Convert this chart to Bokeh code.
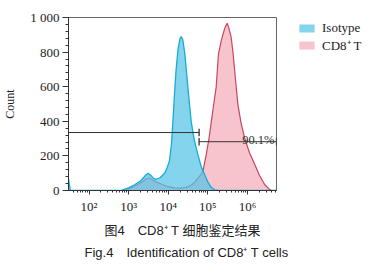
from bokeh.plotting import figure
from bokeh.models import Range1d, FixedTicker, Legend, LegendItem, Label, Title
from bokeh.embed import file_html
from bokeh.resources import INLINE

# ---------------- data ----------------
# fluorescence intensity as log10 values, counts per channel
iso_log = [1.482, 1.53, 2.80, 3.00, 3.15, 3.30, 3.42, 3.49, 3.56, 3.63, 3.70, 3.80,
           3.91, 3.97, 4.03, 4.08, 4.12, 4.16, 4.20, 4.25, 4.30, 4.33, 4.37, 4.42,
           4.46, 4.52, 4.58, 4.66, 4.75, 4.83, 4.92, 5.00, 5.08, 5.17, 5.30, 6.735]
iso_count = [70, 0, 0, 15, 33, 55, 85, 100, 88, 70, 65, 75,
             100, 130, 170, 260, 400, 560, 700, 820, 880, 890, 870, 790,
             690, 540, 400, 290, 207, 140, 91, 50, 20, 4, 0, 0]

cd8_log = [1.482, 2.85, 3.00, 3.20, 3.35, 3.45, 3.52, 3.60, 3.70, 3.85, 4.00, 4.15,
           4.30, 4.45, 4.58, 4.68, 4.75, 4.82, 4.88, 4.96, 5.03, 5.09, 5.15, 5.21,
           5.27, 5.34, 5.41, 5.45, 5.49, 5.53, 5.59, 5.64, 5.70, 5.76, 5.84, 5.93,
           6.05, 6.19, 6.30, 6.44, 6.55, 6.61, 6.735]
cd8_count = [0, 0, 10, 30, 50, 68, 72, 62, 50, 35, 22, 15,
             14, 18, 30, 50, 72, 90, 115, 207, 300, 400, 500, 595,
             790, 866, 924, 950, 967, 940, 886, 789, 640, 498, 390, 304,
             220, 149, 90, 33, 8, 0, 0]

series_names = ["Isotype", "CD8⁺ T"]

x_range_log = [1.482, 6.735]
x_tick_values = [1e2, 1e3, 1e4, 1e5, 1e6]
x_tick_labels = ["10²", "10³", "10⁴", "10⁵", "10⁶"]
y_tick_values = [0, 200, 400, 600, 800, 1000]
y_tick_labels = ["0", "200", "400", "600", "800", "1 000"]

gate_split_log = 4.78
gate_neg_level = 335
gate_pos_level = 282
gate_pos_text = "90.1%"

caption_cn = "图4　CD8⁺ T 细胞鉴定结果"
caption_en = "Fig.4　Identification of CD8⁺ T cells"

# ---------------- figure ----------------
SERIF = "Liberation Serif"
x0, x1 = 10 ** x_range_log[0], 10 ** x_range_log[1]

p = figure(width=371, height=269, frame_width=208, frame_height=173, x_axis_type="log",
           x_range=Range1d(x0, x1), y_range=Range1d(0, 1000),
           min_border_left=67, min_border_right=96, min_border_top=17, min_border_bottom=79,
           output_backend="svg", toolbar_location=None)
p.grid.visible = False
p.outline_line_color = "#666666"
p.background_fill_color = "white"
p.border_fill_color = "white"

iso_x = [10 ** v for v in iso_log]
cd8_x = [10 ** v for v in cd8_log]

cd8_area = p.varea(x=cd8_x, y1=0, y2=cd8_count, fill_color="#f7c4ce", fill_alpha=1.0)
p.line(cd8_x, cd8_count, line_color="#c9455c", line_width=1.2)
iso_area = p.varea(x=iso_x, y1=0, y2=iso_count, fill_color="#55c3e8", fill_alpha=0.72)
p.line(iso_x, iso_count, line_color="#14aed3", line_width=1.3)

# gates
gs = 10 ** gate_split_log
tick_h = 22
p.segment(x0=[x0, gs], y0=[gate_neg_level, gate_pos_level],
          x1=[gs, x1], y1=[gate_neg_level, gate_pos_level],
          line_color="#333333", line_width=1)
p.segment(x0=[gs, gs, x1], y0=[gate_neg_level - tick_h, gate_pos_level - tick_h, gate_pos_level - tick_h],
          x1=[gs, gs, x1], y1=[gate_neg_level + tick_h, gate_pos_level + tick_h, gate_pos_level + tick_h],
          line_color="#333333", line_width=1.3)
p.add_layout(Label(x=10 ** 6.685, y=gate_pos_level + 11, text=gate_pos_text,
                   text_align="right", text_baseline="alphabetic",
                   text_font=SERIF, text_font_size="12.5px", text_color="#333333"))

# axes
p.xaxis.ticker = FixedTicker(ticks=x_tick_values,
                             minor_ticks=[k * 10 ** e for e in range(1, 7) for k in range(2, 10)])
p.xaxis.major_label_overrides = {v: s for v, s in zip(x_tick_values, x_tick_labels)}
p.yaxis.ticker = FixedTicker(ticks=y_tick_values, minor_ticks=list(range(0, 1001, 40)))
p.yaxis.major_label_overrides = {v: s for v, s in zip(y_tick_values, y_tick_labels)}
p.yaxis.axis_label = "Count"
for ax in (p.xaxis, p.yaxis):
    ax.axis_line_color = "#333333"
    ax.major_tick_line_color = "#333333"
    ax.minor_tick_line_color = "#333333"
    ax.major_tick_in = 0
    ax.minor_tick_in = 0
    ax.major_label_text_font = SERIF
    ax.major_label_text_font_size = "13px"
    ax.major_label_text_color = "#222222"
p.xaxis.major_tick_out = 4
p.xaxis.minor_tick_out = 2
p.xaxis.major_label_standoff = 4
p.yaxis.major_tick_out = 6
p.yaxis.minor_tick_out = 3
p.yaxis.major_label_standoff = 3
p.yaxis.axis_label_text_font = SERIF
p.yaxis.axis_label_text_font_size = "12px"
p.yaxis.axis_label_text_font_style = "normal"
p.yaxis.axis_label_text_color = "#222222"
p.yaxis.axis_label_standoff = 10

legend = Legend(items=[LegendItem(label=series_names[0], renderers=[iso_area]),
                       LegendItem(label=series_names[1], renderers=[cd8_area])],
                location=(21, 136), border_line_color=None, background_fill_alpha=0,
                padding=0, margin=0, spacing=0, glyph_width=19, glyph_height=10,
                label_height=10, label_standoff=6, label_text_font=SERIF,
                label_text_font_size="13px", label_text_color="#222222")
p.add_layout(legend, "right")

p.add_layout(Title(text=caption_cn, align="left", offset=36, standoff=9,
                   text_font="Liberation Sans, Noto Sans CJK SC", text_font_size="13px",
                   text_font_style="normal", text_color="#222222"), "below")
p.add_layout(Title(text=caption_en, align="left", offset=16, standoff=1,
                   text_font="Liberation Sans", text_font_size="13px",
                   text_font_style="normal", text_color="#222222"), "below")

open("out.html", "w").write(file_html(p, INLINE))
